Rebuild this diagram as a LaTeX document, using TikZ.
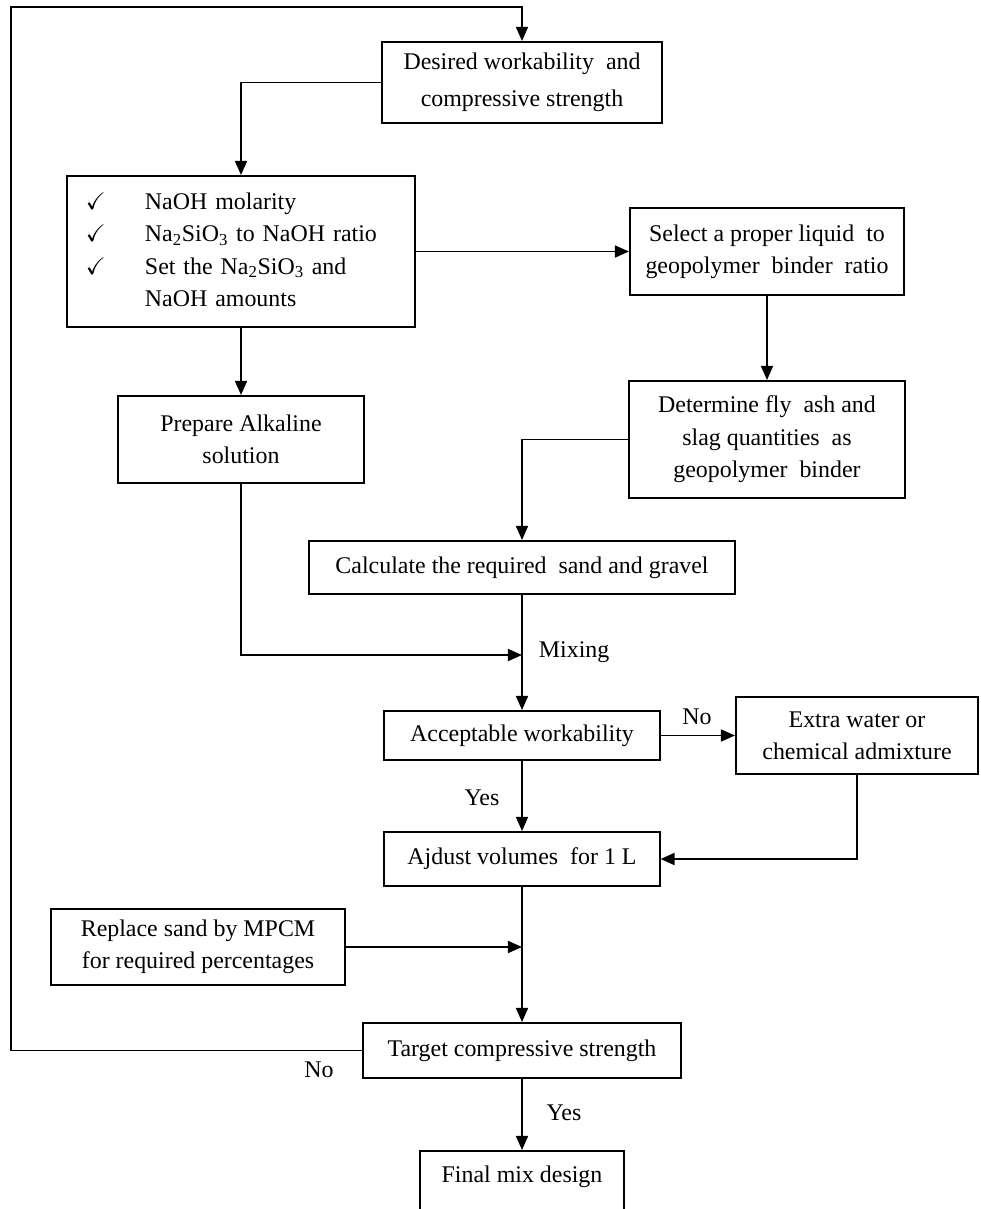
\documentclass[tikz,border=0pt]{standalone}
\usepackage{amssymb}
\usepackage{fontspec}
\setmainfont{Liberation Serif}
\usetikzlibrary{arrows.meta}

\begin{document}
\begin{tikzpicture}[x=0.025cm,y=-0.025cm,
    box/.style={draw,line width=1.4pt,align=center,inner sep=0pt,font=\fontsize{17}{23}\selectfont},
    arr/.style={line width=1.3pt,-{Triangle[length=10pt,width=8.5pt]}},
    lbl/.style={font=\fontsize{17}{20}\selectfont}]
      \useasboundingbox (0,0) rectangle (980,1209);
      \node[box,minimum width=7cm,minimum height=2.025cm] (desired) at (522,82.5) {Desired workability\ \ and\\[3pt]compressive strength};
      \node[box,minimum width=8.7cm,minimum height=3.775cm,text width=7.75cm,align=left] (checks) at (241,251.5)
        {\begin{tabular}{@{}p{1.475cm}@{}l@{}}
          $\checkmark$ & NaOH molarity\\
          $\checkmark$ & Na\textsubscript{2}SiO\textsubscript{3} to NaOH ratio\\
          $\checkmark$ & Set the Na\textsubscript{2}SiO\textsubscript{3} and\\
                       & NaOH amounts
        \end{tabular}};
      \node[box,minimum width=6.85cm,minimum height=2.175cm] (select) at (767,251.5) {Select a proper liquid\ \ to\\geopolymer\ \ binder\ \ ratio};
      \node[box,minimum width=6.875cm,minimum height=2.925cm] (determine) at (767,439.5) {Determine fly\ \ ash and\\slag quantities\ \ as\\geopolymer\ \ binder};
      \node[box,minimum width=6.15cm,minimum height=2.175cm] (prepare) at (241,439.5) {Prepare Alkaline\\solution};
      \node[box,minimum width=10.625cm,minimum height=1.325cm] (calc) at (522,567.5) {Calculate the required\ \ sand and gravel};
      \coordinate (mix) at (522,655);
      \node[box,minimum width=6.875cm,minimum height=1.225cm] (accept) at (522,735.5) {Acceptable workability};
      \node[box,minimum width=6.05cm,minimum height=1.925cm] (extra) at (857,735.5) {Extra water or\\chemical admixture};
      \node[box,minimum width=6.875cm,minimum height=1.35cm] (adjust) at (522,859) {Ajdust volumes\ \ for 1 L};
      \node[box,minimum width=7.35cm,minimum height=1.9cm] (replace) at (198,947) {Replace sand by MPCM\\for required percentages};
      \coordinate (join) at (522,947);
      \node[box,minimum width=7.925cm,minimum height=1.375cm] (target) at (522,1050.5) {Target compressive strength};
      \node[box,minimum width=5.1cm,minimum height=1.725cm] (final) at (522,1185.5) {};
      \node[lbl] (finaltxt) at (522,1177) {Final mix design};
      \coordinate (loop) at (11,7);

      \draw[arr] (target.west) -| (loop) -| (desired.north);
      \draw[arr] (desired.west) -| (checks.north);
      \draw[arr] (checks.east) -- (select.west);
      \draw[arr] (select.south) -- (determine.north);
      \draw[arr] (checks.south) -- (prepare.north);
      \draw[arr] (determine.west) -| (calc.north);
      \draw[arr] (prepare.south) |- (mix);
      \draw[arr] (calc.south) -- (accept.north);
      \node[lbl,anchor=west] (mixing) at (534,652) {Mixing};
      \draw[arr] (accept.east) -- (extra.west);
      \node[lbl] (no1) at (697,717) {No};
      \draw[arr] (accept.south) -- (adjust.north);
      \node[lbl] (yes1) at (482,798) {Yes};
      \draw[arr] (extra.south) |- (adjust.east);
      \draw[arr] (adjust.south) -- (target.north);
      \draw[arr] (replace.east) -- (join);
      \node[lbl] (no2) at (319,1070) {No};
      \draw[arr] (target.south) -- (final.north);
      \node[lbl] (yes2) at (564,1113) {Yes};
    \end{tikzpicture}
\end{document}
